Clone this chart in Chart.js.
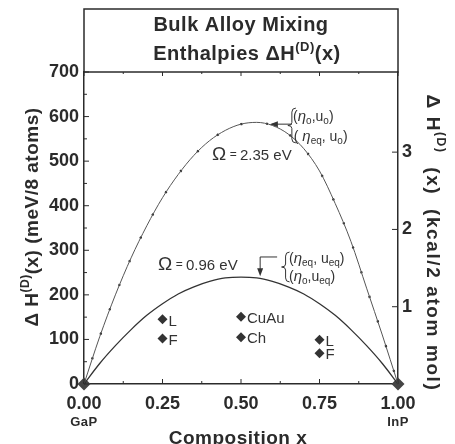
<!DOCTYPE html>
<html>
<head>
<meta charset="utf-8">
<script src="https://cdn.jsdelivr.net/npm/chart.js@4.4.1/dist/chart.umd.min.js"></script>
<style>
  html, body { margin: 0; background: #fff; }
  canvas { display: block; }
</style>
</head>
<body>
<canvas id="chart" width="455" height="444"></canvas>
<script>
// Data
const compositionX = [0, 0.05, 0.1, 0.15, 0.2, 0.25, 0.3, 0.35, 0.4, 0.45, 0.5, 0.55, 0.6, 0.65, 0.7, 0.75, 0.8, 0.85, 0.9, 0.95, 1];
const enthalpyOmega235 = [0, 106, 200, 283, 355, 418, 470, 513, 546, 569, 583, 587, 580, 561, 528, 478, 405, 320, 215, 110, 0];
const enthalpyOmega096 = [0, 46, 86, 122, 154, 180, 202, 218, 230, 238, 240, 238, 230, 218, 202, 180, 154, 122, 86, 46, 0];
const structureX = [0.25, 0.25, 0.5, 0.5, 0.75, 0.75];
const structureH = [145, 102, 151, 105, 99, 69];
const structureNames = ["L", "F", "CuAu", "Ch", "L", "F"];
const endpointX = [0, 1];
const endpointH = [0, 0];
const endpointNames = ["GaP", "InP"];
const xTickValues = [0, 0.25, 0.5, 0.75, 1];
const meVTickValues = [0, 100, 200, 300, 400, 500, 600, 700];
const kcalTickValues = [1, 2, 3];
const meVPerKcal = 173.4; // meV/8 atoms per kcal/(2 atom mol)

const FONT = '"Liberation Sans", Arial, Helvetica, sans-serif';
const INK = "#2b2b2b";

const pts = (xs, ys) => xs.map((x, i) => ({ x, y: ys[i] }));

// draw a run of text pieces [text, font, dy] starting/centered at x
function drawRuns(ctx, runs, x, y, align) {
  let total = 0;
  const widths = runs.map(r => { ctx.font = r[1]; const w = ctx.measureText(r[0]).width; total += w; return w; });
  let cx = align === "center" ? x - total / 2 : x;
  runs.forEach((r, i) => {
    ctx.font = r[1];
    ctx.fillText(r[0], cx, y + (r[2] || 0));
    cx += widths[i];
  });
}

function brace(ctx, x, yTop, yBot) {
  const w = 4, ym = (yTop + yBot) / 2;
  ctx.beginPath();
  ctx.moveTo(x + w, yTop);
  ctx.quadraticCurveTo(x, yTop, x, yTop + 4);
  ctx.lineTo(x, ym - 3);
  ctx.quadraticCurveTo(x, ym, x - w, ym);
  ctx.quadraticCurveTo(x, ym, x, ym + 3);
  ctx.lineTo(x, yBot - 4);
  ctx.quadraticCurveTo(x, yBot, x + w, yBot);
  ctx.stroke();
}

function arrowHead(ctx, x, y, dir) {
  ctx.beginPath();
  if (dir === "left") { ctx.moveTo(x, y); ctx.lineTo(x + 8, y - 3); ctx.lineTo(x + 8, y + 3); }
  else { ctx.moveTo(x, y); ctx.lineTo(x - 3, y - 8); ctx.lineTo(x + 3, y - 8); }
  ctx.closePath();
  ctx.fill();
}

const decorations = {
  id: "decorations",
  afterDraw(chart) {
    const { ctx, chartArea: a, scales } = chart;
    const X = v => scales.x.getPixelForValue(v);
    const Y = v => scales.y.getPixelForValue(v);
    ctx.save();
    ctx.strokeStyle = INK;
    ctx.fillStyle = INK;
    if ("letterSpacing" in ctx) ctx.letterSpacing = "0px";

    // title box and top frame line
    ctx.lineWidth = 1.5;
    ctx.strokeRect(a.left, 9, a.right - a.left, a.top - 9);

    // inner ticks
    ctx.lineWidth = 1;
    for (let v = 0; v <= 1.0001; v += 0.125) {
      const len = Math.abs(v * 4 - Math.round(v * 4)) < 1e-6 ? 5 : 3;
      ctx.beginPath(); ctx.moveTo(X(v), a.bottom); ctx.lineTo(X(v), a.bottom - len); ctx.stroke();
      ctx.beginPath(); ctx.moveTo(X(v), a.top); ctx.lineTo(X(v), a.top + len - 1); ctx.stroke();
    }
    for (let v = 0; v <= 700; v += 50) {
      const len = v % 100 === 0 ? 5 : 3;
      ctx.beginPath(); ctx.moveTo(a.left, Y(v)); ctx.lineTo(a.left + len, Y(v)); ctx.stroke();
    }
    kcalTickValues.forEach(v => {
      const y = scales.y2.getPixelForValue(v);
      ctx.beginPath(); ctx.moveTo(a.right - 6, y); ctx.lineTo(a.right, y); ctx.stroke();
    });

    // title
    ctx.textBaseline = "alphabetic";
    if ("letterSpacing" in ctx) ctx.letterSpacing = "0.5px";
    const bold20 = "bold 20px " + FONT;
    drawRuns(ctx, [["Bulk Alloy Mixing", bold20]], 241, 31, "center");
    drawRuns(ctx, [["Enthalpies \u0394H", bold20], ["(D)", "bold 13px " + FONT, -9], ["(x)", bold20]], 247, 60, "center");

    // left axis title
    const bold19 = "bold 19px " + FONT;
    ctx.save();
    ctx.translate(31, 217);
    ctx.rotate(-Math.PI / 2);
    drawRuns(ctx, [["\u0394 H", bold19], ["(D)", "bold 12px " + FONT, -9], ["(x) (meV/8 atoms)", bold19]], 0, 7, "center");
    ctx.restore();

    // right axis title
    ctx.save();
    ctx.translate(434, 243);
    ctx.rotate(Math.PI / 2);
    if ("letterSpacing" in ctx) ctx.letterSpacing = "1.6px";
    drawRuns(ctx, [["\u0394 H", bold19], ["(D)", "bold 12px " + FONT, -10], ["  (x)  (kcal/2 atom mol)", bold19]], 0, 7, "center");
    ctx.restore();

    // bottom labels
    if ("letterSpacing" in ctx) ctx.letterSpacing = "0.5px";
    ctx.textAlign = "center";
    ctx.textBaseline = "middle";
    ctx.font = "bold 13px " + FONT;
    endpointNames.forEach((n, i) => ctx.fillText(n, X(endpointX[i]), 422));
    ctx.font = "bold 19px " + FONT;
    ctx.fillText("Composition x", 238, 439);
    ctx.textAlign = "left";

    // structure labels next to their diamonds
    if ("letterSpacing" in ctx) ctx.letterSpacing = "0px";
    ctx.font = "15px " + FONT;
    ctx.fillStyle = "#333";
    const meta = chart.getDatasetMeta(3);
    meta.data.forEach((p, i) => ctx.fillText(structureNames[i], p.x + 6, p.y + 2));

    // omega annotations
    ctx.textBaseline = "alphabetic";
    const reg15 = "15px " + FONT, reg12 = "12px " + FONT, om = "19px " + FONT;
    drawRuns(ctx, [["\u03A9", om], [" = ", reg12, -2], ["2.35 eV", reg15]], X(0.408), Y(503), "left");
    drawRuns(ctx, [["\u03A9", om], [" = ", reg12, -2], ["0.96 eV", reg15]], X(0.236), Y(256), "left");

    // upper arrow + brace + labels
    ctx.lineWidth = 1;
    ctx.strokeStyle = "#333";
    ctx.beginPath(); ctx.moveTo(X(0.662), Y(583)); ctx.lineTo(X(0.598), Y(583)); ctx.stroke();
    arrowHead(ctx, X(0.592), Y(583), "left");
    brace(ctx, X(0.662), Y(619), Y(541));
    const eta = "italic 15px " + FONT, sub = "10px " + FONT, t14 = "14px " + FONT;
    drawRuns(ctx, [["(", t14], ["\u03B7", eta], ["o", sub, 3], [",u", t14], ["o", sub, 3], [")", t14]], X(0.666), Y(590), "left");
    drawRuns(ctx, [["( ", t14], ["\u03B7", eta], ["eq", sub, 3], [", u", t14], ["o", sub, 3], [")", t14]], X(0.668), Y(545), "left");

    // lower arrow + brace + labels
    ctx.beginPath();
    ctx.moveTo(X(0.615), Y(285)); ctx.lineTo(X(0.561), Y(285)); ctx.lineTo(X(0.561), Y(250));
    ctx.stroke();
    arrowHead(ctx, X(0.561), Y(242), "down");
    brace(ctx, X(0.642), Y(296), Y(229));
    drawRuns(ctx, [["(", t14], ["\u03B7", eta], ["eq", sub, 3], [", u", t14], ["eq", sub, 3], [")", t14]], X(0.653), Y(271), "left");
    drawRuns(ctx, [["(", t14], ["\u03B7", eta], ["o", sub, 3], [",u", t14], ["eq", sub, 3], [")", t14]], X(0.653), Y(231), "left");

    ctx.restore();
  }
};

const tickFont = { family: FONT, size: 18, weight: "bold" };

new Chart(document.getElementById("chart"), {
  type: "scatter",
  data: {
    datasets: [
      { label: "(\u03B7eq,u0)", data: pts(compositionX, enthalpyOmega235), showLine: true, borderColor: "#555", borderWidth: 1,
        pointRadius: 0, cubicInterpolationMode: "monotone", clip: false },
      { label: "(\u03B70,u0)", data: pts(compositionX, enthalpyOmega235), showLine: true, borderColor: "#222", borderWidth: 2.2,
        borderDash: [2, 24], pointRadius: 0, cubicInterpolationMode: "monotone", clip: false },
      { label: "\u03A9 = 0.96 eV", data: pts(compositionX, enthalpyOmega096), showLine: true, borderColor: "#333", borderWidth: 1.3,
        pointRadius: 0, cubicInterpolationMode: "monotone", clip: false },
      { label: "structures", data: pts(structureX, structureH), pointStyle: "rectRot", pointRadius: 5,
        backgroundColor: "#333", borderColor: "#333", borderWidth: 0, clip: false },
      { label: "endpoints", data: pts(endpointX, endpointH), pointStyle: "rectRot", pointRadius: 6.5,
        backgroundColor: "#444", borderColor: "#444", borderWidth: 0, clip: false }
    ]
  },
  options: {
    responsive: false,
    animation: false,
    events: [],
    layout: { padding: { top: 72, left: 0, right: 0, bottom: 0 } },
    plugins: { legend: { display: false }, tooltip: { enabled: false }, title: { display: false } },
    scales: {
      x: {
        type: "linear", position: "bottom", min: 0, max: 1,
        afterBuildTicks: s => { s.ticks = xTickValues.map(v => ({ value: v })); },
        afterFit: s => { s.height = 60; },
        ticks: { callback: v => Number(v).toFixed(2), font: tickFont, color: INK, padding: 9, maxRotation: 0 },
        grid: { display: false, drawTicks: false },
        border: { display: true, color: INK, width: 1.5 }
      },
      y: {
        type: "linear", position: "left", min: 0, max: 700,
        afterBuildTicks: s => { s.ticks = meVTickValues.map(v => ({ value: v })); },
        afterFit: s => { s.width = 84; },
        ticks: { callback: v => String(v), font: tickFont, color: INK, padding: 5 },
        grid: { display: false, drawTicks: false },
        border: { display: true, color: INK, width: 1.5 }
      },
      y2: {
        type: "linear", position: "right", min: 0, max: 700 / meVPerKcal,
        afterBuildTicks: s => { s.ticks = kcalTickValues.map(v => ({ value: v })); },
        afterFit: s => { s.width = 57; },
        ticks: { callback: v => String(v), font: tickFont, color: INK, padding: 4 },
        grid: { display: false, drawTicks: false },
        border: { display: true, color: INK, width: 1.5 }
      }
    }
  },
  plugins: [decorations]
});
</script>
</body>
</html>
